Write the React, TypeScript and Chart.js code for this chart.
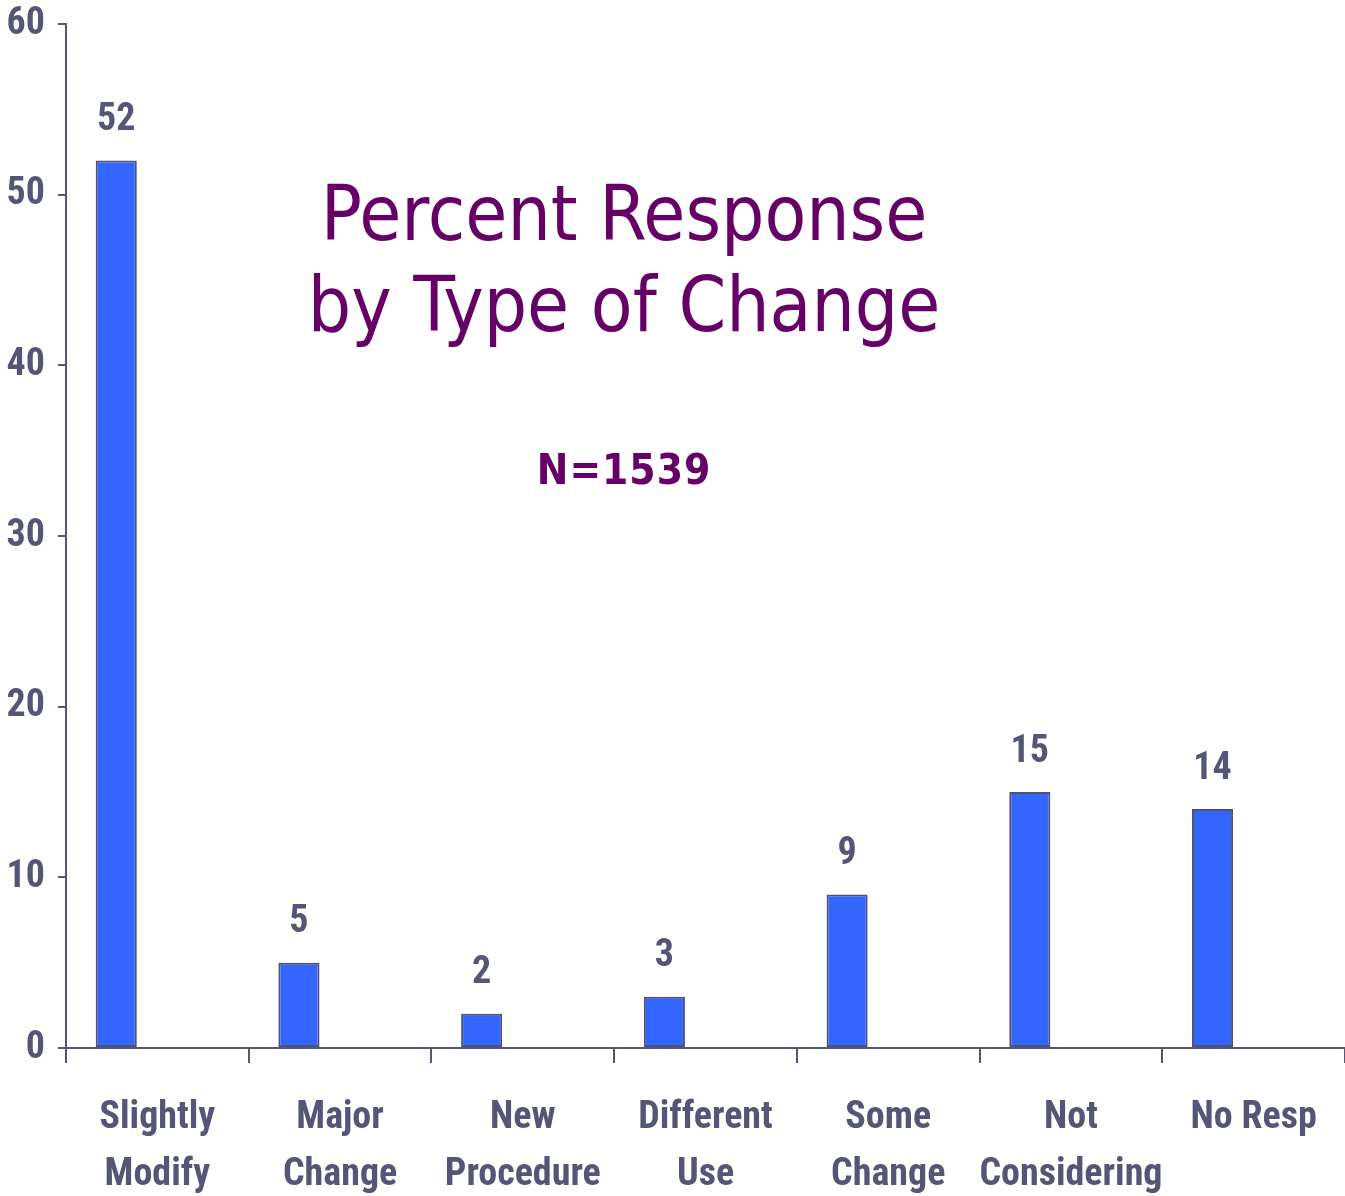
import React, { useEffect, useRef } from "react";
import { Chart, registerables } from "chart.js";

Chart.register(...registerables);

const categories: string[][] = [
  ["Slightly", "Modify"],
  ["Major", "Change"],
  ["New", "Procedure"],
  ["Different", "Use"],
  ["Some", "Change"],
  ["Not", "Considering"],
  ["No Resp"],
];
const percentValues: number[] = [52, 5, 2, 3, 9, 15, 14];
const yTicks = { min: 0, max: 60, step: 10 };
const titleLines: string[] = ["Percent Response", "by Type of Change"];
const subtitle = "N=1539";

const AXIS = "#555577";
const BAR = "#3366ff";
const BAR_BORDER = "#50507a";
const PURPLE = "#660066";
const NARROW = "'Roboto Condensed', 'Open Sans Condensed', sans-serif";
const TITLE_FONT = "'DejaVu Sans Condensed', Tahoma, 'DejaVu Sans', sans-serif";

const labelPlugin = {
  id: "valueLabels",
  afterDatasetsDraw(chart: any) {
    const ctx = chart.ctx;
    const meta = chart.getDatasetMeta(0);
    ctx.save();
    ctx.font = `bold 38px ${NARROW}`;
    ctx.fillStyle = AXIS;
    ctx.textAlign = "center";
    ctx.textBaseline = "middle";
    meta.data.forEach((bar: any, i: number) => {
      const v = chart.data.datasets[0].data[i];
      ctx.fillText(String(v), bar.x, bar.y - 40);
    });
    ctx.restore();
  },
};

const titlePlugin = {
  id: "overlayTitle",
  afterDraw(chart: any) {
    const ctx = chart.ctx;
    const cx = 624;
    ctx.save();
    ctx.fillStyle = PURPLE;
    ctx.textAlign = "center";
    ctx.textBaseline = "alphabetic";
    ctx.font = `76px ${TITLE_FONT}`;
    ctx.fillText(titleLines[0], cx, 240);
    ctx.fillText(titleLines[1], cx, 331);
    ctx.font = `bold 42px ${TITLE_FONT}`;
    try {
      (ctx as any).letterSpacing = "1px";
    } catch (e) {}
    ctx.fillText(subtitle, cx, 484);
    ctx.restore();
  },
};

export default function App() {
  const canvasRef = useRef<HTMLCanvasElement | null>(null);

  useEffect(() => {
    if (!canvasRef.current) return;
    const chart = new Chart(canvasRef.current, {
      type: "bar",
      data: {
        labels: categories,
        datasets: [
          {
            label: "Percent",
            data: percentValues,
            backgroundColor: BAR,
            borderColor: BAR_BORDER,
            borderWidth: 2,
            borderSkipped: false,
            categoryPercentage: 0.9,
            barPercentage: 0.5,
          },
          {
            label: "",
            data: [],
            categoryPercentage: 0.9,
            barPercentage: 0.5,
          },
        ],
      },
      options: {
        animation: false,
        responsive: false,
        maintainAspectRatio: false,
        layout: { padding: { top: 24, right: 0, left: 0, bottom: 0 } },
        plugins: {
          legend: { display: false },
          tooltip: { enabled: false },
          title: { display: false },
        },
        scales: {
          x: {
            offset: true,
            grid: {
              display: true,
              offset: true,
              drawOnChartArea: false,
              drawTicks: true,
              tickLength: 15,
              color: AXIS,
              lineWidth: 2,
            },
            border: { display: true, color: AXIS, width: 2 },
            ticks: {
              color: AXIS,
              padding: 27,
              font: { family: NARROW, size: 38, weight: "bold", lineHeight: 1.5 },
              maxRotation: 0,
              autoSkip: false,
            },
            afterFit: (scale: any) => {
              scale.height = 148;
              scale.paddingLeft = 0;
              scale.paddingRight = 0;
            },
          },
          y: {
            min: yTicks.min,
            max: yTicks.max,
            grid: {
              display: true,
              drawOnChartArea: false,
              drawTicks: true,
              tickLength: 8,
              color: AXIS,
              lineWidth: 2,
            },
            border: { display: true, color: AXIS, width: 2 },
            ticks: {
              stepSize: yTicks.step,
              color: AXIS,
              padding: 13,
              font: { family: NARROW, size: 38, weight: "bold", lineHeight: 1.0 },
            },
            afterFit: (scale: any) => {
              scale.width = 66;
              scale.paddingTop = 0;
              scale.paddingBottom = 0;
            },
          },
        },
      },
      plugins: [labelPlugin, titlePlugin],
    });
    return () => chart.destroy();
  }, []);

  return (
    <div style={{ position: "fixed", left: 0, top: 0, width: 1345, height: 1196, background: "#fff" }}>
      <canvas ref={canvasRef} width={1345} height={1196} style={{ width: 1345, height: 1196, display: "block" }} />
    </div>
  );
}
